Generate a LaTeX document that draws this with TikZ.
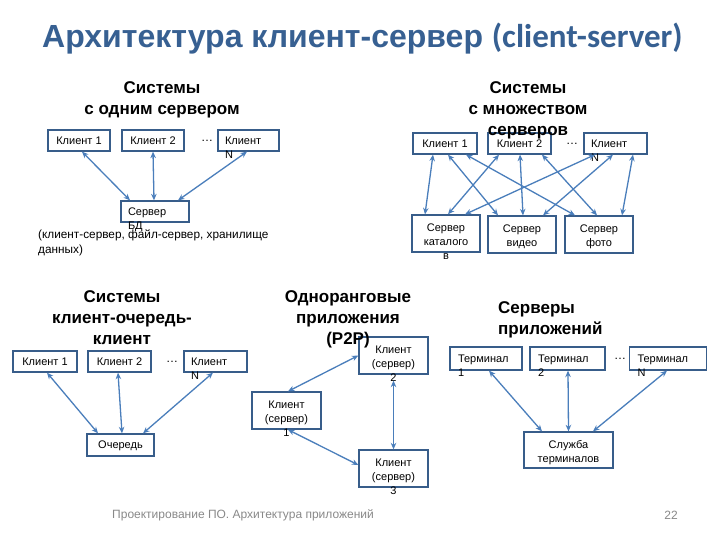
\documentclass[tikz,border=0pt]{standalone}
\usepackage{fontspec}
\setmainfont{Liberation Sans}
\newfontfamily\calib{Carlito}
\usetikzlibrary{arrows.meta}
\definecolor{titleblue}{RGB}{55,96,146}
\definecolor{boxline}{RGB}{56,93,138}
\definecolor{linkblue}{RGB}{74,126,187}
\definecolor{footgray}{RGB}{137,137,137}
\begin{document}
\begin{tikzpicture}[x=1pt,y=-1pt]

    \tikzset{
      box/.style={
        draw=boxline,
        line width=1.3pt,
        fill=white,
        inner sep=0pt,
        minimum height=21pt,
        font=\fontsize{11}{14}\selectfont,
        text height=8pt,
        text depth=0.5pt,
      },
      wrapbox/.style={box, text width=#1, align=left},
      tallbox/.style={box, text width=#1, align=center, minimum height=37pt, text depth=12pt},
      dots/.style={font=\fontsize{12}{14}\selectfont, inner sep=0pt},
      head/.style={font=\fontsize{17}{21}\selectfont\bfseries, align=center, inner sep=0pt},
      link/.style={linkblue, line width=1.3pt, {Stealth[length=6.5pt,width=5.5pt]}-{Stealth[length=6.5pt,width=5.5pt]}},
    }
    \useasboundingbox[fill=white] (0,0) rectangle (720,540);

    \node[anchor=base west, inner sep=0pt, text=titleblue] (title) at (42,48)
      {\fontsize{32}{36}\selectfont\bfseries Архитектура клиент-сервер {\calib\fontsize{33}{36}\selectfont(client-server)}};

    \node[box, minimum width=62pt] (a1) at (79,140.5) {Клиент 1};
    \node[box, minimum width=62pt] (a2) at (153,140.5) {Клиент 2};
    \node[wrapbox=47pt, minimum width=61pt] (aN) at (248.5,140.5) {Клиент\\N};
    \node[dots] (adots) at (207,141) {\dots};
    \node[wrapbox=54pt, minimum width=68pt] (adb) at (155,211.5) {Сервер\\БД};
    \draw[link] ([xshift=3pt]a1.south) -- ([xshift=-25pt]adb.north);
    \draw[link] (a2.south) -- ([xshift=-1pt]adb.north);
    \draw[link] ([xshift=-1.5pt]aN.south) -- ([xshift=23pt]adb.north);
    \node[anchor=north west, align=left, inner sep=0pt, font=\fontsize{11.8}{15}\selectfont] (anote) at (38,230)
      {(клиент-сервер, файл-сервер, хранилище\\данных)};

    \node[box, minimum width=64pt] (b1) at (445,143.5) {Клиент 1};
    \node[box, minimum width=63pt] (b2) at (519.5,143.5) {Клиент 2};
    \node[wrapbox=49pt, minimum width=63pt] (bN) at (615.5,143.5) {Клиент\\N};
    \node[dots] (bdots) at (572,144) {\dots};
    \node[tallbox=62pt, minimum width=68pt] (bcat) at (446,233.5) {Сервер\\каталого\\в};
    \node[tallbox=62pt, minimum width=68pt] (bvid) at (522,234.5) {Сервер\\видео};
    \node[tallbox=62pt, minimum width=68pt] (bfoto) at (599,234.5) {Сервер\\фото};
    \draw[link] ([xshift=-12pt]b1.south) -- ([xshift=-21pt]bcat.north);
    \draw[link] ([xshift=3pt]b1.south) -- ([xshift=-24pt]bvid.north);
    \draw[link] ([xshift=21pt]b1.south) -- ([xshift=-24pt]bfoto.north);
    \draw[link] ([xshift=-20.5pt]b2.south) -- ([xshift=2pt]bcat.north);
    \draw[link] ([xshift=0.5pt]b2.south) -- ([xshift=1pt]bvid.north);
    \draw[link] ([xshift=22.5pt]b2.south) -- ([xshift=-2pt]bfoto.north);
    \draw[link] ([xshift=-20.5pt]bN.south) -- ([xshift=19pt]bcat.north);
    \draw[link] ([xshift=-2.5pt]bN.south) -- ([xshift=21pt]bvid.north);
    \draw[link] ([xshift=17.5pt]bN.south) -- ([xshift=23pt]bfoto.north);

    \node[box, minimum width=64pt] (c1) at (45,361.5) {Клиент 1};
    \node[box, minimum width=63pt] (c2) at (119.5,361.5) {Клиент 2};
    \node[wrapbox=49pt, minimum width=63pt] (cN) at (215.5,361.5) {Клиент\\N};
    \node[dots] (cdots) at (172,362) {\dots};
    \node[box, minimum width=67pt, minimum height=22pt] (cq) at (120.5,445) {Очередь};
    \draw[link] ([xshift=2pt]c1.south) -- ([xshift=-22.5pt]cq.north);
    \draw[link] ([xshift=-1.5pt]c2.south) -- ([xshift=1.5pt]cq.north);
    \draw[link] ([xshift=-2.5pt]cN.south) -- ([xshift=22.5pt]cq.north);

    \node[tallbox=62pt, minimum width=69pt] (d2) at (393.5,355.5) {Клиент\\(сервер)\\2};
    \node[tallbox=62pt, minimum width=69pt] (d1) at (286.5,410.5) {Клиент\\(сервер)\\1};
    \node[tallbox=62pt, minimum width=69pt] (d3) at (393.5,468.5) {Клиент\\(сервер)\\3};
    \draw[link] ([xshift=1.5pt]d1.north) -- (d2.west);
    \draw[link] ([xshift=1.5pt]d1.south) -- ([yshift=3.5pt]d3.west);
    \draw[link] ([yshift=-6pt]d2.south) -- (d3.north);

    \node[wrapbox=56pt, minimum width=72pt, minimum height=23pt] (e1) at (486,358.5) {Терминал\\1};
    \node[wrapbox=59pt, minimum width=75pt, minimum height=23pt] (e2) at (567.5,358.5) {Терминал\\2};
    \node[wrapbox=61pt, minimum width=77pt, minimum height=23pt] (eN) at (668,358.5) {Терминал\\N};
    \node[dots] (edots) at (620,359) {\dots};
    \node[tallbox=80pt, minimum width=89pt, minimum height=36pt] (es) at (568.5,450) {Служба\\терминалов};
    \draw[link] ([xshift=3pt]e1.south) -- ([xshift=-26.5pt]es.north);
    \draw[link] ([xshift=0.5pt]e2.south) -- (es.north);
    \draw[link] ([xshift=-1pt]eN.south) -- ([xshift=24.5pt]es.north);

    \node[head, anchor=north] (hA) at (162,81) {Системы\\с одним сервером};
    \node[head, anchor=north] (hB) at (528,81) {Системы\\с множеством\\серверов};
    \node[head, anchor=north] (hC) at (122,290) {Системы\\клиент-очередь-\\клиент};
    \node[head, anchor=north] (hD) at (348,290) {Одноранговые\\приложения\\(P2P)};
    \node[head, anchor=north west, align=left] (hE) at (498,301) {Серверы\\приложений};

    \node[anchor=west, inner sep=0pt, text=footgray, font=\fontsize{12}{14}\selectfont] (foot) at (112,515)
      {Проектирование ПО. Архитектура приложений};
    \node[anchor=east, inner sep=0pt, text=footgray, font=\fontsize{12}{14}\selectfont] (page) at (678,515) {22};

\end{tikzpicture}
\end{document}
